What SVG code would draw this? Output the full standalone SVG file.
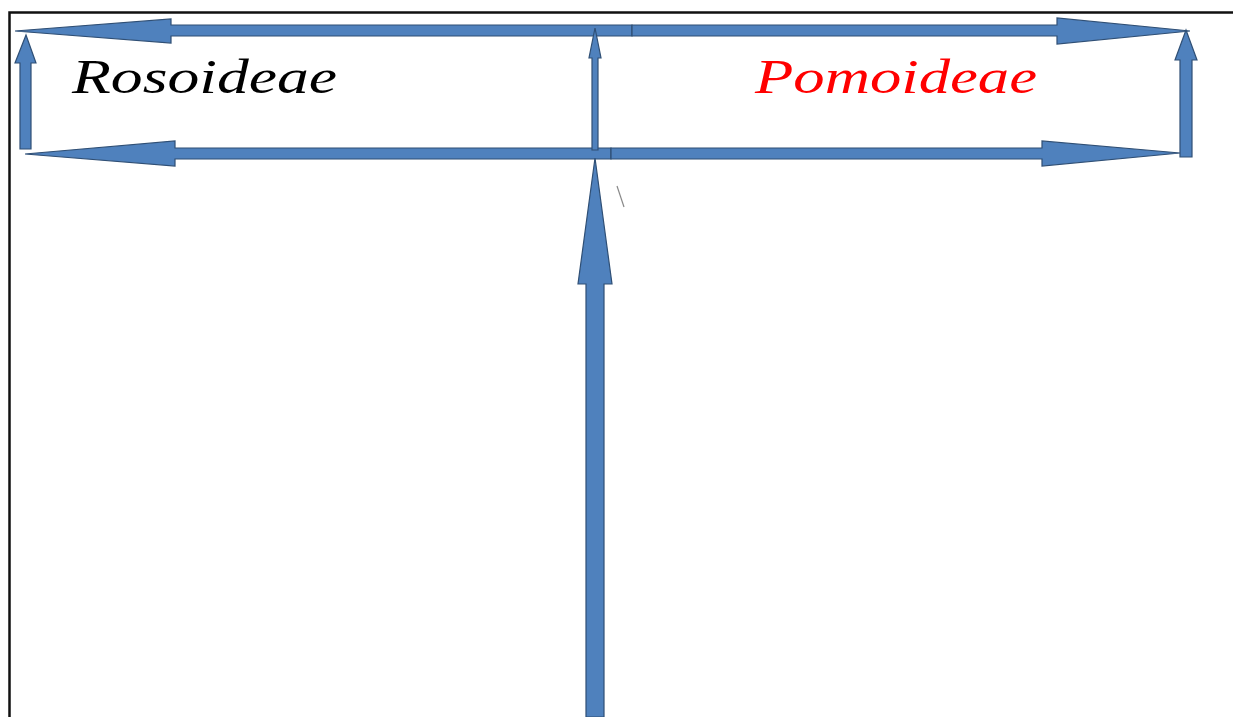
<svg xmlns="http://www.w3.org/2000/svg" width="1233" height="717" viewBox="0 0 1233 717">
<style>
.arr{fill:#4f81bd;stroke:#2f4f75;stroke-width:1.2;stroke-linejoin:miter}
.lbl{font-family:"Liberation Serif","Times New Roman",serif;font-style:italic;font-size:49px}
</style>
<rect width="1233" height="717" fill="#fff"/>
<g id="frame"><path d="M9.5 717 V12.5 H1233" fill="none" stroke="#111" stroke-width="2.5"/></g>
<g id="connectors">
<path class="arr" d="M632 25 H171 V19 L15 31 L171 43 V36 H632 Z"/>
<path class="arr" d="M632 25 H1057 V18 L1190 31 L1057 44 V36 H632 Z"/>
<path class="arr" d="M611 148 H175 V141 L25 154 L175 166 V159 H611 Z"/>
<path class="arr" d="M611 148 H1042 V141 L1180 153 L1042 166 V159 H611 Z"/>
<path class="arr" d="M20 149 V63 H15 L26 35 L36 63 H31 V149 Z"/>
<path class="arr" d="M592 150 V58 H589 L595 28 L601 58 H598 V150 Z"/>
<path class="arr" d="M1180 157 V60 H1175 L1186 30 L1197 60 H1192 V157 Z"/>
<path class="arr" d="M586 717 V284 H578 L595 158 L612 284 H604 V717 Z"/>
<line x1="617" y1="186" x2="624" y2="207" stroke="#888" stroke-width="1.2"/>
</g>
<g id="rosoideae"><text class="lbl" x="72" y="93" fill="#000" textLength="265" lengthAdjust="spacingAndGlyphs">Rosoideae</text></g>
<g id="pomoideae"><text class="lbl" x="755" y="93" fill="#ff0000" textLength="282" lengthAdjust="spacingAndGlyphs">Pomoideae</text></g>
</svg>
